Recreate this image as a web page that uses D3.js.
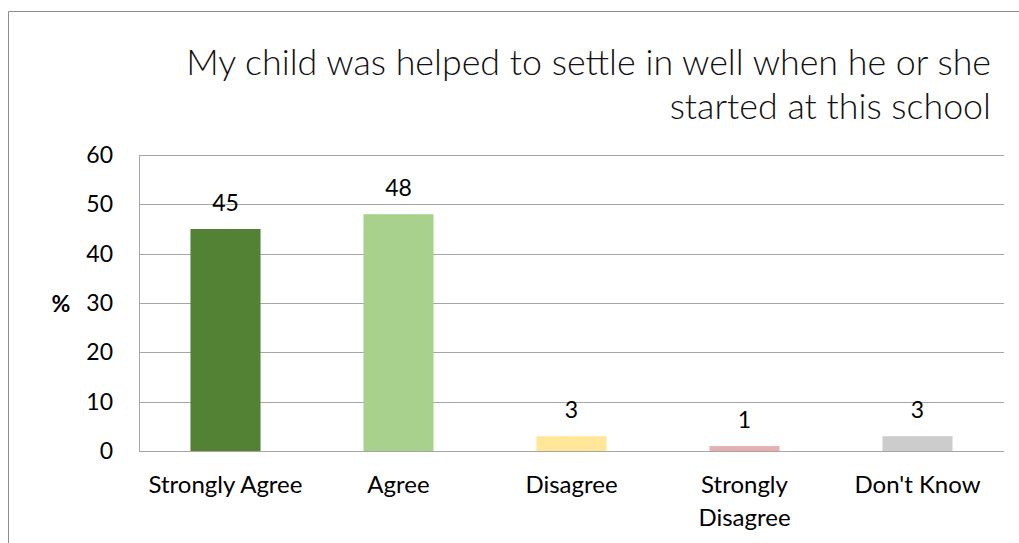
<!DOCTYPE html>
<html>
<head>
<meta charset="utf-8">
<script src="https://cdn.jsdelivr.net/npm/d3@7"></script>
<style>
  body { margin: 0; background: #fff; }
  svg { display: block; }
</style>
</head>
<body>
<svg id="chart"></svg>
<script>
let categories = [["Strongly Agree"], ["Agree"], ["Disagree"], ["Strongly", "Disagree"], ["Don't Know"]];
let values = [45, 48, 3, 1, 3];
let colors = ["#548235", "#a9d18e", "#ffe699", "#e6b0b0", "#cccccc"];
let yTicks = [0, 10, 20, 30, 40, 50, 60];
let titleLines = ["My child was helped to settle in well when he or she", "started at this school"];

let size = {width: 1019, height: 543};
let margin = {top: 155, right: 15, bottom: 92, left: 139};
let font = "Lato, 'Noto Sans', sans-serif";

let svg = d3.select("#chart")
  .attr("width", size.width)
  .attr("height", size.height);

// outer chart frame
svg.append("path")
  .attr("d", "M8.5,543 V11.5 H1019")
  .attr("fill", "none")
  .attr("stroke", "#8c8c8c")
  .attr("stroke-width", 1);

let x = d3.scaleBand()
  .domain(d3.range(categories.length))
  .range([margin.left, size.width - margin.right])
  .paddingInner(0.595)
  .paddingOuter(0.2975);

let y = d3.scaleLinear()
  .domain([0, 60])
  .range([size.height - margin.bottom, margin.top]);

// grid lines
svg.append("g")
  .selectAll("line")
  .data(yTicks)
  .enter().append("line")
  .attr("x1", margin.left)
  .attr("x2", size.width - margin.right)
  .attr("y1", d => Math.round(y(d)) + 0.5)
  .attr("y2", d => Math.round(y(d)) + 0.5)
  .attr("stroke", "#a6a6a6")
  .attr("stroke-width", 1);

// left axis line
svg.append("line")
  .attr("x1", margin.left + 0.5)
  .attr("x2", margin.left + 0.5)
  .attr("y1", Math.round(y(60)))
  .attr("y2", Math.round(y(0)) + 1)
  .attr("stroke", "#a6a6a6");

// y tick labels
svg.append("g")
  .selectAll("text")
  .data(yTicks)
  .enter().append("text")
  .text(d => d)
  .attr("x", 113)
  .attr("y", d => y(d) + 8)
  .attr("text-anchor", "end")
  .attr("font-family", font)
  .attr("font-size", "23px")
  .attr("fill", "#000");

svg.append("text")
  .text("%")
  .attr("x", 61)
  .attr("y", 312)
  .attr("text-anchor", "middle")
  .attr("font-family", font)
  .attr("font-weight", "bold")
  .attr("font-size", "23px");

// bars
svg.append("g")
  .selectAll("rect")
  .data(values)
  .enter().append("rect")
  .attr("x", (d, i) => x(i))
  .attr("y", d => y(d))
  .attr("width", x.bandwidth())
  .attr("height", d => y(0) - y(d))
  .attr("fill", (d, i) => colors[i]);

// value labels
svg.append("g")
  .selectAll("text")
  .data(values)
  .enter().append("text")
  .text(d => d)
  .attr("x", (d, i) => x(i) + x.bandwidth() / 2)
  .attr("y", d => y(d) - 18)
  .attr("text-anchor", "middle")
  .attr("font-family", font)
  .attr("font-size", "23px")
  .attr("fill", "#000");

// category labels
let catLabels = svg.append("g")
  .selectAll("text")
  .data(categories)
  .enter().append("text")
  .attr("x", (d, i) => x(i) + x.bandwidth() / 2)
  .attr("y", 493)
  .attr("text-anchor", "middle")
  .attr("font-family", font)
  .attr("font-size", "24px")
  .attr("fill", "#000");

catLabels.selectAll("tspan")
  .data((d, i) => d.map(t => ({t: t, i: i})))
  .enter().append("tspan")
  .text(d => d.t)
  .attr("x", d => x(d.i) + x.bandwidth() / 2)
  .attr("dy", (d, j) => j == 0 ? 0 : 33);

// title
svg.append("g")
  .selectAll("text")
  .data(titleLines)
  .enter().append("text")
  .text(d => d)
  .attr("x", 991)
  .attr("y", (d, i) => 75 + i * 44)
  .attr("text-anchor", "end")
  .attr("font-family", "Lato, sans-serif")
  .attr("font-weight", "300")
  .attr("font-size", "35.8px")
  .attr("fill", "#111");
</script>
</body>
</html>
